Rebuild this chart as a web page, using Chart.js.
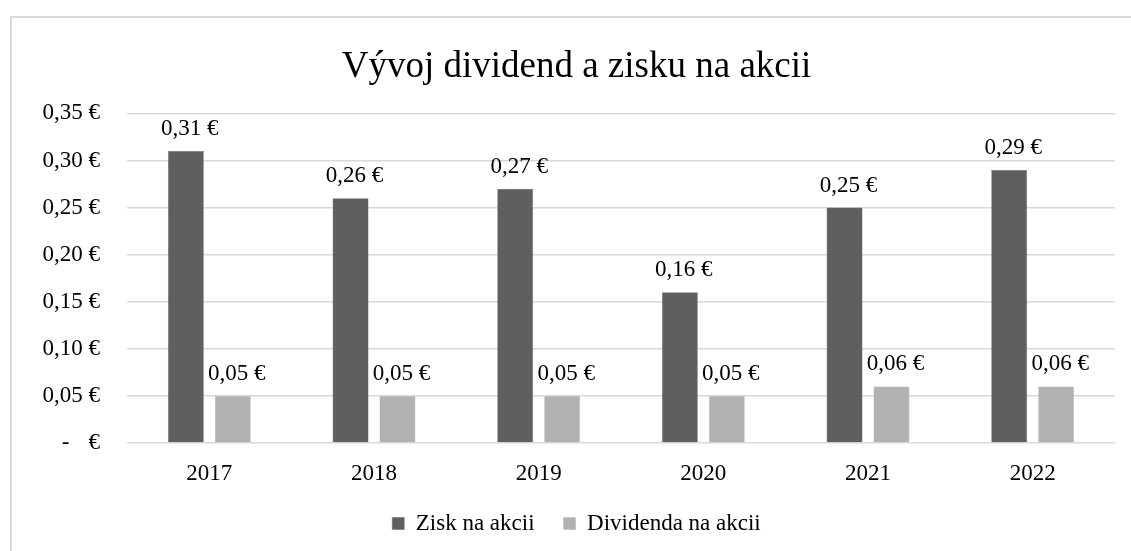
<!DOCTYPE html>
<html>
<head>
<meta charset="utf-8">
<script src="https://cdn.jsdelivr.net/npm/chart.js@4/dist/chart.umd.min.js"></script>
<style>
html,body{margin:0;padding:0;background:#fff;}
canvas{display:block;}
</style>
</head>
<body>
<canvas id="c" width="1131" height="551"></canvas>
<script>
const categories = ['2017', '2018', '2019', '2020', '2021', '2022'];
const ziskNaAkcii = [0.31, 0.26, 0.27, 0.16, 0.25, 0.29];
const dividendaNaAkcii = [0.05, 0.05, 0.05, 0.05, 0.06, 0.06];
const seriesNames = ['Zisk na akcii', 'Dividenda na akcii'];
const titleText = 'Vývoj dividend a zisku na akcii';

const FONT = '"Liberation Serif", "Times New Roman", Times, serif';

function fmtEur(v) {
  const r = Math.round(v * 100) / 100;
  if (r === 0) return '-   \u200A€';
  return r.toFixed(2).replace('.', ',') + ' €';
}

const framePlugin = {
  id: 'frame',
  beforeDraw(chart) {
    const ctx = chart.ctx;
    ctx.save();
    ctx.strokeStyle = '#d9d9d9';
    ctx.lineWidth = 2;
    ctx.strokeRect(11, 17, 1200, 600);
    ctx.restore();
  }
};

const labelPlugin = {
  id: 'barLabels',
  afterDatasetsDraw(chart) {
    const ctx = chart.ctx;
    ctx.save();
    ctx.font = '23px ' + FONT;
    ctx.fillStyle = '#000';
    ctx.textAlign = 'center';
    ctx.textBaseline = 'alphabetic';
    chart.data.datasets.forEach((ds, i) => {
      const meta = chart.getDatasetMeta(i);
      meta.data.forEach((el, j) => {
        ctx.fillText(fmtEur(ds.data[j]), el.x + 4, el.y - 16);
      });
    });
    ctx.restore();
  }
};

new Chart(document.getElementById('c'), {
  type: 'bar',
  data: {
    labels: categories,
    datasets: [
      { label: seriesNames[0], data: ziskNaAkcii, backgroundColor: '#5f5f5f', borderColor: '#6a6a6a', borderWidth: 0.5,
        categoryPercentage: 0.57, barPercentage: 0.766 },
      { label: seriesNames[1], data: dividendaNaAkcii, backgroundColor: '#b2b2b2', borderColor: '#b8b8b8', borderWidth: 0.5,
        categoryPercentage: 0.57, barPercentage: 0.766 }
    ]
  },
  options: {
    responsive: false,
    animation: false,
    devicePixelRatio: 1,
    layout: { padding: { left: 38, right: 16, top: 0, bottom: 6 } },
    plugins: {
      title: {
        display: true,
        text: titleText,
        color: '#000',
        font: { family: FONT, size: 37, weight: 'normal' },
        padding: { top: 45, bottom: 24 }
      },
      legend: {
        position: 'bottom',
        labels: {
          color: '#000',
          font: { family: FONT, size: 23 },
          boxWidth: 12,
          boxHeight: 12,
          padding: 29
        }
      },
      tooltip: { enabled: false }
    },
    scales: {
      x: {
        afterFit(scale) { scale.height = 40; },
        grid: { display: false },
        border: { display: false },
        ticks: { color: '#000', font: { family: FONT, size: 23 }, padding: 9 }
      },
      y: {
        min: 0,
        max: 0.35,
        afterFit(scale) { scale.width = 89; },
        border: { display: false },
        grid: { color: '#d9d9d9', lineWidth: 1.5, drawTicks: false },
        ticks: {
          stepSize: 0.05,
          color: '#000',
          font: { family: FONT, size: 23 },
          padding: 27,
          callback: (v) => fmtEur(v)
        }
      }
    }
  },
  plugins: [framePlugin, labelPlugin]
});
</script>
</body>
</html>
